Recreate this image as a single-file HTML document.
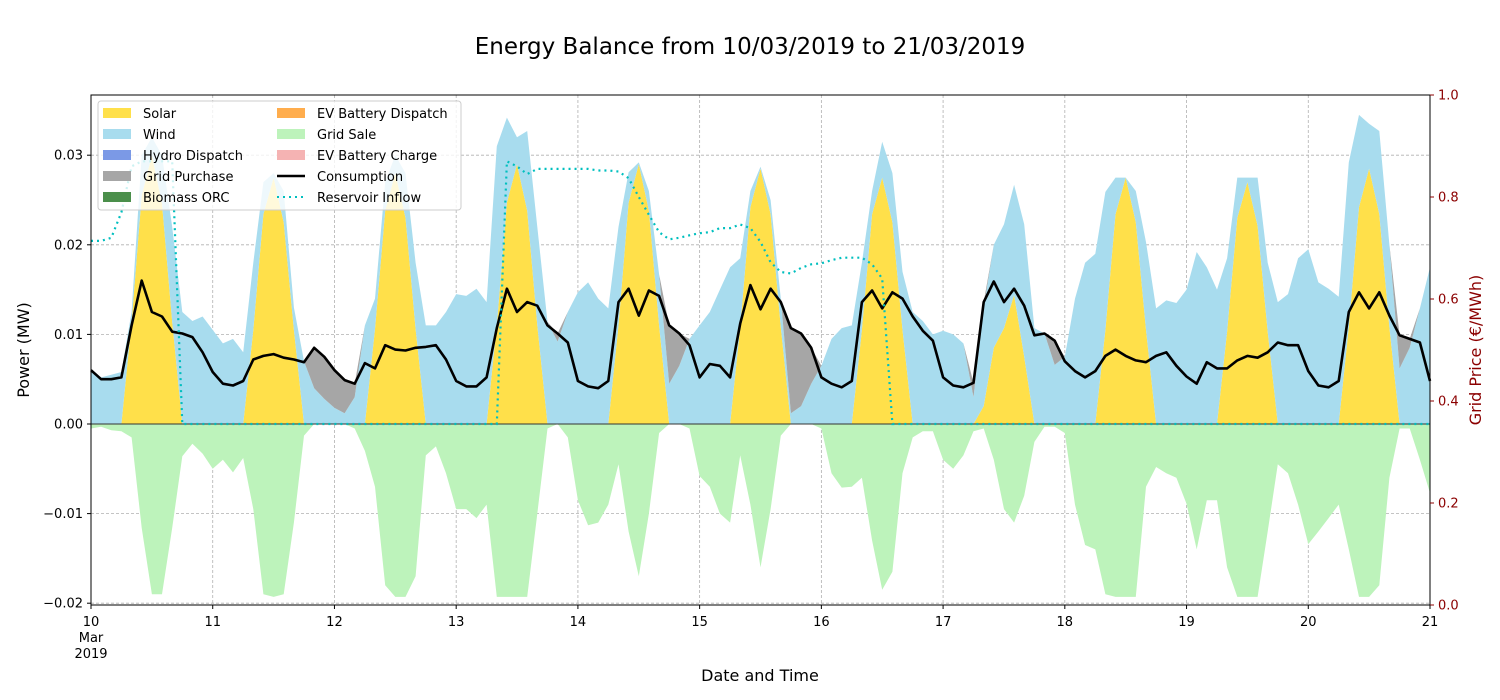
<!DOCTYPE html>
<html><head><meta charset="utf-8"><style>
body{margin:0;background:#fff;}
svg{display:block;font-family:"DejaVu Sans","Liberation Sans",sans-serif;}
</style></head><body>
<svg id="chart" width="1500" height="700" viewBox="0 0 1500 700">
<text x="750" y="54" text-anchor="middle" font-size="23" fill="#000">Energy Balance from 10/03/2019 to 21/03/2019</text>
<g id="grid"></g>
<g id="areas"></g>
<g id="lines"></g>
<g id="axes"></g>
<text x="760" y="681" text-anchor="middle" font-size="16">Date and Time</text>
<text transform="translate(29,350) rotate(-90)" text-anchor="middle" font-size="16">Power (MW)</text>
<text transform="translate(1481,350) rotate(-90)" text-anchor="middle" font-size="16" fill="#8b0000">Grid Price (€/MWh)</text>
<g id="legend">
<rect x="98" y="101" width="363" height="109" rx="3" fill="#fff" fill-opacity="0.8" stroke="#ccc"/>
<g font-size="13" fill="#000">
<rect x="103" y="108" width="28" height="10" fill="#ffe04a"/><text x="143" y="118">Solar</text>
<rect x="103" y="129" width="28" height="10" fill="#a8dcee"/><text x="143" y="139">Wind</text>
<rect x="103" y="150" width="28" height="10" fill="#7b99e6"/><text x="143" y="160">Hydro Dispatch</text>
<rect x="103" y="171" width="28" height="10" fill="#a6a6a6"/><text x="143" y="181">Grid Purchase</text>
<rect x="103" y="192" width="28" height="10" fill="#4b8f4b"/><text x="143" y="202">Biomass ORC</text>
<rect x="277" y="108" width="28" height="10" fill="#ffad4d"/><text x="317" y="118">EV Battery Dispatch</text>
<rect x="277" y="129" width="28" height="10" fill="#bdf3bb"/><text x="317" y="139">Grid Sale</text>
<rect x="277" y="150" width="28" height="10" fill="#f5b3b3"/><text x="317" y="160">EV Battery Charge</text>
<line x1="277" y1="176" x2="305" y2="176" stroke="#000" stroke-width="2.5"/><text x="317" y="181">Consumption</text>
<line x1="277" y1="197" x2="305" y2="197" stroke="#00bfbf" stroke-width="2" stroke-dasharray="2,4"/><text x="317" y="202">Reservoir Inflow</text>
</g></g>
</svg>
<script>
// values in kW (0.001 MW), 2-hour steps from 10 Mar 00:00 to 21 Mar 00:00
const solar = [0,0,0,0,11.4,25.5,30,24.6,11.4,0,0,0, 0,0,0,0,10.5,23.4,27.5,22.5,10.5,0,0,0, 0,0,0,0,10.6,23.8,28,23,10.6,0,0,0, 0,0,0,0,11,24.7,29,23.8,11,0,0,0, 0,0,0,0,11,24.7,29,23.8,11,0,0,0, 0,0,0,0,10.8,24.2,28.5,23.4,10.8,0,0,0, 0,0,0,0,10.5,23.4,27.5,22.5,10.5,0,0,0, 0,0,0,0,2,8.5,10.7,14.4,7.5,0,0,0, 0,0,0,0,10.5,23.4,27.5,22.5,10.5,0,0,0, 0,0,0,0,10.3,23,27,22.1,10.3,0,0,0, 0,0,0,0,10.8,24.2,28.5,23.4,10.8,0,0,0, 0];
const wind = [6.0,5.2,5.5,5.8,1.1,4.5,2,5.4,10.6,12.5,11.5,12, 10.5,9,9.5,8,7.5,3.6,0.5,3.5,2.5,7,4,2.8, 1.8,1.2,3,11,3.4,3.2,2,5,7.4,11,11,12.5, 14.5,14.3,15.1,13.6,20,9.5,3,8.9,11,11.4,9.2,12.5, 14.7,15.8,14,12.9,11,3.4,0.2,2.2,5.7,4.5,6.5,9.5, 11,12.5,15,17.5,7.7,1.8,0.2,1.6,3.2,1.2,2,4.5, 6.5,9.5,10.7,11,7.5,2.6,4,5.5,6.5,12.5,11.5,10, 10.4,10,9,3,11,11.5,11.6,12.3,14.8,10.7,10.1,6.6, 7.5,14,18,19,15.4,4.1,0,3.5,9.8,12.9,13.8,13.5, 15,19.2,17.5,15,8.2,4.5,0.5,5.4,7.7,13.6,14.5,18.5, 19.5,15.8,15.1,14.2,18.4,10.3,5,9.3,9.2,6.2,8.5,12.9, 17.5];
const gridPurchase = [0,0,0,0,0,0,0,0,0,0,0,0, 0,0,0,0,0,0,0,0,0,0,4.5,4.7, 4.2,3.7,1.5,0,0,0,0,0,0,0,0,0, 0,0,0,0,0,0,0,0,0,0,0.9,0, 0,0,0,0,0,0,0,0,0,6.5,3.6,0, 0,0,0,0,0,0,0,0,0,9.5,8.1,4.0, 0,0,0,0,0,0,0,0,0,0,0,0, 0,0,0,1.6,0.6,0,0,0,0,0,0,2.7, 0,0,0,0,0,0,0,0,0,0,0,0, 0,0,0,0,0,0,0,0,0,0,0,0, 0,0,0,0,0,0,0,0,0,3.7,1.0,0, 0];
const gridSale = [0.5,0.3,0.7,0.8,1.5,11.6,19,19,11.6,3.6,2.2,3.3, 5,4,5.4,3.8,9.5,19,19.3,19,11,1.3,0,0, 0,0,0.5,3,7,18,19.3,19.3,17,3.5,2.5,5.5, 9.5,9.5,10.5,9,19.3,19.3,19.3,19.3,10,0.5,0,1.5, 8.5,11.3,11,9,4.5,12,17,10,1,0,0,0.5, 5.8,7,10,11,3.5,9,16,9.5,1.3,0,0,0, 0.5,5.5,7.1,7,6,13,18.5,16.5,5.5,1.5,0.8,0.8, 4,5,3.5,0.8,0.5,4,9.5,11,8,2,0.3,0.3, 1,9,13.5,14,19,19.3,19.3,19.3,7,4.8,5.5,6, 8.9,14,8.5,8.5,16,19.3,19.3,19.3,12,4.5,5.5,9, 13.4,12,10.5,9,14,19.3,19.3,18,6,0.5,0.5,4, 7.7];
const consumption = [6,5,5,5.2,11,16,12.5,12,10.3,10.1,9.7,8.0, 5.8,4.5,4.3,4.8,7.2,7.6,7.8,7.4,7.2,6.9,8.5,7.5, 6,4.9,4.5,6.8,6.2,8.8,8.3,8.2,8.5,8.6,8.8,7.2, 4.8,4.2,4.2,5.2,10.7,15.1,12.5,13.6,13.2,11,10.1,9.1, 4.8,4.2,4.0,4.8,13.6,15.1,12.1,14.9,14.3,11,10.1,8.8, 5.2,6.7,6.5,5.2,11.2,15.5,12.8,15.1,13.6,10.7,10.1,8.5, 5.2,4.5,4.1,4.8,13.6,14.9,12.9,14.7,14,12,10.4,9.3, 5.2,4.3,4.1,4.6,13.6,15.9,13.6,15.1,13.2,9.9,10.1,9.3, 7.0,5.9,5.2,5.9,7.6,8.3,7.6,7.1,6.9,7.6,8.0,6.5, 5.3,4.5,6.9,6.2,6.2,7.1,7.6,7.4,8.0,9.1,8.8,8.8, 5.9,4.3,4.1,4.8,12.5,14.7,12.9,14.7,12.1,9.9,9.5,9.1, 4.8];
// reservoir inflow plotted on right axis scale
const reservoir = [.714,.714,.72,.77,.86,.87,.87,.87,.87,.355,.355,.355, .355,.355,.355,.355,.355,.355,.355,.355,.355,.355,.355,.355, .355,.355,.355,.355,.355,.355,.355,.355,.355,.355,.355,.355, .355,.355,.355,.355,.355,.87,.86,.845,.855,.855,.855,.855, .855,.855,.852,.852,.85,.837,.80,.765,.731,.717,.72,.725, .729,.731,.739,.739,.746,.739,.712,.672,.653,.65,.661,.668, .67,.676,.681,.681,.681,.668,.64,.355,.355,.355,.355,.355, .355,.355,.355,.355,.355,.355,.355,.355,.355,.355,.355,.355, .355,.355,.355,.355,.355,.355,.355,.355,.355,.355,.355,.355, .355,.355,.355,.355,.355,.355,.355,.355,.355,.355,.355,.355, .355,.355,.355,.355,.355,.355,.355,.355,.355,.355,.355,.355, .355];
const dayLabels = ["10","11","12","13","14","15","16","17","18","19","20","21"];
const leftTicks = [-0.02,-0.01,0,0.01,0.02,0.03];
const leftTickLabels = ["−0.02","−0.01","0.00","0.01","0.02","0.03"];
const rightTicks = [0,0.2,0.4,0.6,0.8,1.0];
const rightTickLabels = ["0.0","0.2","0.4","0.6","0.8","1.0"];

const PL=91, PR=1430, PT=95, PB=605, N=132;
const xS = t => PL + t*(PR-PL)/N;
const xDay = d => PL + d*(PR-PL)/11;
const yL = mw => 424 - mw*8960;      // MW
const yK = kw => yL(kw/1000);       // kW
const yR = p => PB - p*(PB-PT);
const NS='http://www.w3.org/2000/svg';
function mk(tag, attrs, parent){const e=document.createElementNS(NS,tag);for(const k in attrs)e.setAttribute(k,attrs[k]);parent.appendChild(e);return e;}
const grid=document.getElementById('grid'), areas=document.getElementById('areas'), lines=document.getElementById('lines'), axes=document.getElementById('axes');

// gridlines
dayLabels.forEach((d,i)=>{const l=mk('line',{x1:xDay(i),x2:xDay(i),y1:PT,y2:PB,stroke:'#b0b0b0','stroke-width':0.8,'stroke-dasharray':'3,2'},grid);

});
leftTicks.forEach(v=>{const l=mk('line',{x1:PL,x2:PR,y1:yL(v),y2:yL(v),stroke:'#b0b0b0','stroke-width':0.8,'stroke-dasharray':'3,2'},grid);

});

function band(lo, hi){let d='';for(let i=0;i<=N;i++)d+=(i?'L':'M')+xS(i).toFixed(1)+','+yK(hi[i]).toFixed(1);for(let i=N;i>=0;i--)d+='L'+xS(i).toFixed(1)+','+yK(lo[i]).toFixed(1);return d+'Z';}
const zero=solar.map(()=>0);
const s1=solar.map(v=>v);
const s2=solar.map((v,i)=>v+wind[i]);
const s3=s2.map((v,i)=>v+gridPurchase[i]);
const neg=gridSale.map(v=>-v);
let p;
p=mk('path',{d:band(zero,s1),fill:'#ffe04a'},areas);


p=mk('path',{d:band(s1,s2),fill:'#a8dcee'},areas);


p=mk('path',{d:band(s2,s3),fill:'#a6a6a6'},areas);


p=mk('path',{d:band(neg,zero),fill:'#bdf3bb'},areas);



const zl=mk('line',{x1:PL,x2:PR,y1:yL(0),y2:yL(0),stroke:'#333','stroke-width':1},lines);


let d='';consumption.forEach((v,i)=>{d+=(i?'L':'M')+xS(i).toFixed(1)+','+yK(v).toFixed(1);});
p=mk('path',{d:d,fill:'none',stroke:'#000','stroke-width':2.6,'stroke-linejoin':'round'},lines);


d='';reservoir.forEach((v,i)=>{d+=(i?'L':'M')+xS(i).toFixed(1)+','+yR(v).toFixed(1);});
p=mk('path',{d:d,fill:'none',stroke:'#00bfbf','stroke-width':2.2,'stroke-dasharray':'2,4'},lines);



// frame
const fr=mk('rect',{x:PL,y:PT,width:PR-PL,height:PB-PT,fill:'none',stroke:'#000','stroke-width':1},axes);


leftTicks.forEach((v,i)=>{mk('line',{x1:PL-4,x2:PL,y1:yL(v),y2:yL(v),stroke:'#000'},axes);
const t=mk('text',{x:PL-8,y:yL(v)+4.5,'text-anchor':'end','font-size':13},axes);t.textContent=leftTickLabels[i];

});
rightTicks.forEach((v,i)=>{mk('line',{x1:PR,x2:PR+4,y1:yR(v),y2:yR(v),stroke:'#8b0000'},axes);
const t=mk('text',{x:PR+8,y:yR(v)+4.5,'font-size':13,fill:'#8b0000'},axes);t.textContent=rightTickLabels[i];

});
dayLabels.forEach((lab,i)=>{mk('line',{x1:xDay(i),x2:xDay(i),y1:PB,y2:PB+4,stroke:'#000'},axes);
const t=mk('text',{x:xDay(i),y:626,'text-anchor':'middle','font-size':13},axes);t.textContent=lab;

});
const m=mk('text',{x:xDay(0),y:642,'text-anchor':'middle','font-size':13},axes);m.textContent='Mar';


const yr=mk('text',{x:xDay(0),y:658,'text-anchor':'middle','font-size':13},axes);yr.textContent='2019';


</script>
</body></html>
